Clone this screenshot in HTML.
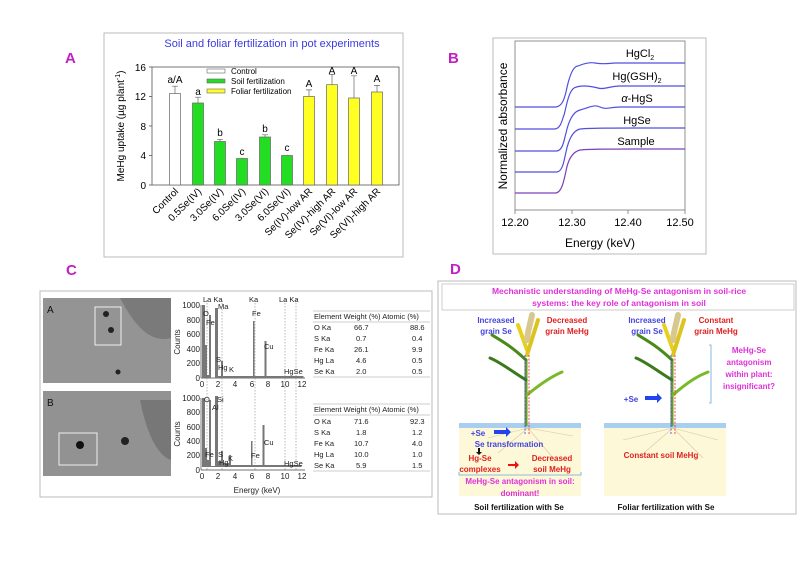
<!DOCTYPE html>
<html><head><meta charset="utf-8"><style>body{margin:0;background:#fff}svg{display:block;font-family:"Liberation Sans",Arial,sans-serif}</style></head><body>
<svg width="800" height="585" viewBox="0 0 800 585" xmlns="http://www.w3.org/2000/svg">
<!-- Panel A -->
<text x="65" y="63" font-size="15" font-weight="bold" fill="#c21fc4">A</text>
<rect x="104" y="33" width="299" height="224" fill="#fff" stroke="#bbb"/>
<text x="272" y="47" font-size="11" fill="#3a3ae0" text-anchor="middle">Soil and foliar fertilization in pot experiments</text>
<rect x="152" y="67" width="247" height="118" fill="none" stroke="#555" stroke-width="0.8"/>
<g font-size="10" text-anchor="end" fill="#000">
<text x="146" y="71">16</text><text x="146" y="100">12</text><text x="146" y="130">8</text><text x="146" y="159">4</text><text x="146" y="189">0</text></g>
<g stroke="#555" stroke-width="0.8"><line x1="149" y1="67" x2="152" y2="67"/><line x1="149" y1="96.5" x2="152" y2="96.5"/><line x1="149" y1="126" x2="152" y2="126"/><line x1="149" y1="155.5" x2="152" y2="155.5"/><line x1="149" y1="185" x2="152" y2="185"/></g>
<text transform="translate(124,126) rotate(-90)" font-size="10" text-anchor="middle">MeHg uptake (µg plant<tspan dy="-4" font-size="7">-1</tspan><tspan dy="4">)</tspan></text>
<g stroke="#666" stroke-width="0.7">
<rect x="169.5" y="93.5" width="11" height="91.5" fill="#fff"/>
<rect x="192.5" y="103" width="11" height="82" fill="#22dd22"/>
<rect x="214.5" y="141.5" width="11" height="43.5" fill="#22dd22"/>
<rect x="236.5" y="158.5" width="11" height="26.5" fill="#22dd22"/>
<rect x="259.5" y="137" width="11" height="48" fill="#22dd22"/>
<rect x="281.5" y="155.5" width="11" height="29.5" fill="#22dd22"/>
<rect x="303.5" y="96.5" width="11" height="88.5" fill="#ffff22"/>
<rect x="326.5" y="84.7" width="11" height="100.3" fill="#ffff22"/>
<rect x="348.5" y="98" width="11" height="87" fill="#ffff22"/>
<rect x="371.5" y="92" width="11" height="93" fill="#ffff22"/>
<path d="M175 93.5V86.2M172 86.2h6M198 103V97.2M195 97.2h6M220 141.5V139.3M217 139.3h6M242 158.5V157.7M265 137V134.8M262 134.8h6M287 155.5V154.8M309 96.5V89.9M306 89.9h6M332 84.7V74.4M329 74.4h6M354 98V75.8M351 75.8h6M377 92V85.4M374 85.4h6" fill="none"/>
</g>
<g font-size="10" text-anchor="middle">
<text x="175" y="83">a/A</text><text x="198" y="95">a</text><text x="220" y="136">b</text><text x="242" y="155">c</text><text x="265" y="132">b</text><text x="287" y="151">c</text><text x="309" y="87">A</text><text x="332" y="74">A</text><text x="354" y="74">A</text><text x="377" y="82">A</text></g>
<g font-size="8"><rect x="207" y="69" width="18" height="4" fill="#fff" stroke="#666" stroke-width="0.6"/><text x="231" y="74">Control</text>
<rect x="207" y="79" width="18" height="4" fill="#22dd22" stroke="#666" stroke-width="0.6"/><text x="231" y="84">Soil fertilization</text>
<rect x="207" y="89" width="18" height="4" fill="#ffff22" stroke="#666" stroke-width="0.6"/><text x="231" y="94">Foliar fertilization</text></g>
<g font-size="10" text-anchor="end">
<text transform="translate(179,192) rotate(-45)">Control</text>
<text transform="translate(202,192) rotate(-45)">0.5Se(IV)</text>
<text transform="translate(224,192) rotate(-45)">3.0Se(IV)</text>
<text transform="translate(246,192) rotate(-45)">6.0Se(IV)</text>
<text transform="translate(269,192) rotate(-45)">3.0Se(VI)</text>
<text transform="translate(291,192) rotate(-45)">6.0Se(VI)</text>
<text transform="translate(313,192) rotate(-45)">Se(IV)-low AR</text>
<text transform="translate(336,192) rotate(-45)">Se(IV)-high AR</text>
<text transform="translate(358,192) rotate(-45)">Se(VI)-low AR</text>
<text transform="translate(381,192) rotate(-45)">Se(VI)-high AR</text></g>

<!-- Panel B -->
<text x="448" y="63" font-size="15" font-weight="bold" fill="#c21fc4">B</text>
<rect x="493" y="38" width="213" height="216" fill="#fff" stroke="#bbb"/>
<rect x="515" y="41" width="170" height="169" fill="none" stroke="#777" stroke-width="0.8"/>
<g stroke="#777" stroke-width="0.8"><line x1="515" y1="210" x2="515" y2="214"/><line x1="572" y1="210" x2="572" y2="214"/><line x1="628" y1="210" x2="628" y2="214"/><line x1="685" y1="210" x2="685" y2="214"/></g>
<g font-size="11" text-anchor="middle"><text x="515" y="226">12.20</text><text x="572" y="226">12.30</text><text x="628" y="226">12.40</text><text x="680" y="226">12.50</text>
<text x="600" y="247" font-size="12">Energy (keV)</text></g>
<text transform="translate(507,126) rotate(-90)" font-size="12" text-anchor="middle">Normalized absorbance</text>
<g fill="none" stroke="#5050e0" stroke-width="1.2">
<path d="M515 107H556C562 106 564 100 566 92C568 82 572 66 578 66C585 63 590 62 595 63C600 64 605 64 615 63H685"/>
<path d="M515 129H555C561 128 562 120 564 115C566 109 568 92 574 88C580 85 590 86 598 88C604 90 610 86 620 86H685"/>
<path d="M515 151H557C563 150 564 140 566 133C568 124 572 112 580 110C588 108 594 104 600 107C606 110 610 107 620 107H685"/>
<path d="M515 172H557C563 171 564 160 566 152C568 142 572 131 580 129C590 128 600 128 685 128"/>
</g>
<path d="M515 193H556C562 192 564 180 566 171C568 160 572 152 580 150C590 149 600 149 685 149" fill="none" stroke="#5050e0" stroke-width="1.2"/>
<path d="M515 193H556C562 192 564 180 566 171C568 160 572 152 580 150C590 149 600 149 685 149" fill="none" stroke="#dd2266" stroke-width="0.8" stroke-dasharray="1.5 1.5"/>
<g font-size="11" text-anchor="middle"><text x="640" y="57">HgCl<tspan font-size="7" dy="3">2</tspan></text><text x="637" y="80">Hg(GSH)<tspan font-size="7" dy="3">2</tspan></text><text x="637" y="102"><tspan font-style="italic">α</tspan>-HgS</text><text x="637" y="124">HgSe</text><text x="636" y="145">Sample</text></g>

<!-- Panel C -->
<text x="66" y="275" font-size="15" font-weight="bold" fill="#c21fc4">C</text>
<rect x="40" y="291" width="392" height="206" fill="#fff" stroke="#bbb"/>
<rect x="43" y="298" width="128" height="85" fill="#949494"/>
<rect x="43" y="391" width="128" height="85" fill="#929292"/>
<path d="M120 298h51v40c-20 5-35-10-51-40z" fill="#7a7a7a"/>
<path d="M140 400h31v60c-15-5-25-30-31-60z" fill="#777"/>
<rect x="95" y="307" width="26" height="38" fill="none" stroke="#eee"/>
<rect x="59" y="433" width="38" height="32" fill="none" stroke="#eee"/>
<circle cx="106" cy="314" r="3" fill="#222"/><circle cx="111" cy="330" r="3" fill="#222"/><circle cx="118" cy="372" r="2.5" fill="#222"/>
<circle cx="80" cy="445" r="4" fill="#111"/><circle cx="125" cy="441" r="4" fill="#222"/>
<text x="47" y="313" font-size="10" fill="#111">A</text><text x="47" y="406" font-size="10" fill="#111">B</text>
<g font-size="8" fill="#222">
<line x1="201" y1="305" x2="201" y2="378" stroke="#444" stroke-width="0.7"/><line x1="201" y1="378" x2="305" y2="378" stroke="#444" stroke-width="0.7"/>
<line x1="201" y1="398" x2="201" y2="470" stroke="#444" stroke-width="0.7"/><line x1="201" y1="470" x2="305" y2="470" stroke="#444" stroke-width="0.7"/>
<g text-anchor="end"><text x="200" y="308">1000</text><text x="200" y="323">800</text><text x="200" y="337">600</text><text x="200" y="352">400</text><text x="200" y="366">200</text><text x="200" y="381">0</text>
<text x="200" y="401">1000</text><text x="200" y="415">800</text><text x="200" y="430">600</text><text x="200" y="444">400</text><text x="200" y="458">200</text><text x="200" y="473">0</text></g>
<g text-anchor="middle"><text x="202" y="387">0</text><text x="218" y="387">2</text><text x="235" y="387">4</text><text x="252" y="387">6</text><text x="268" y="387">8</text><text x="285" y="387">10</text><text x="302" y="387">12</text>
<text x="202" y="479">0</text><text x="218" y="479">2</text><text x="235" y="479">4</text><text x="252" y="479">6</text><text x="268" y="479">8</text><text x="285" y="479">10</text><text x="302" y="479">12</text></g>
<text transform="translate(180,342) rotate(-90)" text-anchor="middle">Counts</text><text transform="translate(180,434) rotate(-90)" text-anchor="middle">Counts</text>
<text x="257" y="493" text-anchor="middle">Energy (keV)</text>
</g>
<g stroke="#888" stroke-width="0.6" stroke-dasharray="1.5 1.5"><line x1="207" y1="300" x2="207" y2="470"/><line x1="222" y1="300" x2="222" y2="470"/><line x1="255" y1="300" x2="255" y2="470"/><line x1="285" y1="300" x2="285" y2="470"/><line x1="296" y1="300" x2="296" y2="470"/></g>
<g fill="#777">
<path d="M202 378V305h3v40h2v30h2v-60h2v63h4v-70h3v68h3v-15h2v15h30v-55h1.5v55h10v-35h2v35h37v2H202z"/>
<path d="M202 470V398h3v50h2v12h2v-60h2v66h4v-70h3v65h3v-10h2v12h6v-8h2v10h20v-24h1.5v24h10v-40h2v40h37v2H202z"/></g>
<g font-size="7.5" fill="#222"><text x="203" y="302">La Ka</text><text x="249" y="302">Ka</text><text x="279" y="302">La Ka</text><text x="218" y="309">Ma</text><text x="203" y="316">O</text><text x="206" y="325">Fe</text><text x="252" y="316">Fe</text><text x="264" y="349">Cu</text><text x="216" y="362">S</text><text x="218" y="370">Hg</text><text x="229" y="372">K</text><text x="284" y="374">HgSe</text>
<text x="204" y="402">O</text><text x="212" y="410">Al</text><text x="217" y="402">Si</text><text x="205" y="457">Fe</text><text x="218" y="457">S</text><text x="219" y="465">Hg</text><text x="228" y="461">K</text><text x="251" y="458">Fe</text><text x="264" y="445">Cu</text><text x="284" y="466">HgSe</text></g>
<g font-size="7.5" fill="#222">
<line x1="313" y1="311" x2="430" y2="311" stroke="#999" stroke-width="0.6"/>
<text x="314" y="319">Element  Weight (%)  Atomic (%)</text>
<line x1="313" y1="322" x2="430" y2="322" stroke="#999" stroke-width="0.6"/>
<text x="314" y="330">O Ka</text><text x="354" y="330">66.7</text><text x="410" y="330">88.6</text>
<text x="314" y="341">S Ka</text><text x="356" y="341">0.7</text><text x="412" y="341">0.4</text>
<text x="314" y="352">Fe Ka</text><text x="354" y="352">26.1</text><text x="412" y="352">9.9</text>
<text x="314" y="363">Hg La</text><text x="356" y="363">4.6</text><text x="412" y="363">0.5</text>
<text x="314" y="374">Se Ka</text><text x="356" y="374">2.0</text><text x="412" y="374">0.5</text>
<line x1="313" y1="377" x2="430" y2="377" stroke="#999" stroke-width="0.6"/>
<line x1="313" y1="404" x2="430" y2="404" stroke="#999" stroke-width="0.6"/>
<text x="314" y="412">Element  Weight (%)  Atomic (%)</text>
<line x1="313" y1="415" x2="430" y2="415" stroke="#999" stroke-width="0.6"/>
<text x="314" y="424">O Ka</text><text x="354" y="424">71.6</text><text x="410" y="424">92.3</text>
<text x="314" y="435">S Ka</text><text x="356" y="435">1.8</text><text x="412" y="435">1.2</text>
<text x="314" y="446">Fe Ka</text><text x="354" y="446">10.7</text><text x="412" y="446">4.0</text>
<text x="314" y="457">Hg La</text><text x="354" y="457">10.0</text><text x="412" y="457">1.0</text>
<text x="314" y="468">Se Ka</text><text x="356" y="468">5.9</text><text x="412" y="468">1.5</text>
<line x1="313" y1="471" x2="430" y2="471" stroke="#999" stroke-width="0.6"/></g>

<!-- Panel D -->
<text x="450" y="274" font-size="15" font-weight="bold" fill="#c21fc4">D</text>
<rect x="438" y="281" width="358" height="233" fill="#fff" stroke="#bbb"/>
<rect x="442" y="284" width="352" height="26" fill="#fff" stroke="#ccc"/>
<g font-size="8.5" font-weight="bold" fill="#e030d8" text-anchor="middle"><text x="619" y="294">Mechanistic understanding of MeHg-Se antagonism in soil-rice</text><text x="619" y="306">systems: the key role of antagonism in soil</text></g>
<rect x="459" y="425" width="122" height="71" fill="#fdf8d8"/><rect x="459" y="423" width="122" height="5" fill="#a8cff0"/>
<rect x="604" y="425" width="122" height="71" fill="#fdf8d8"/><rect x="604" y="423" width="122" height="5" fill="#a8cff0"/>
<g stroke="#d8c8a0" fill="none" stroke-width="0.6"><path d="M528 428l-30 25M528 428l25 30M528 428l-40 10M528 428l45 8M673 428l-35 30M673 428l30 30M673 428l-50 12M673 428l45 12"/></g>
<g fill="none" stroke-linecap="round">
<path d="M526 425V360" stroke="#6a9a2a" stroke-width="3"/><path d="M526 380C510 370 500 362 490 358" stroke="#3a7a1a" stroke-width="3"/><path d="M527 395C545 380 555 375 562 372" stroke="#7aba2a" stroke-width="3"/><path d="M526 360C510 345 500 340 492 335" stroke="#4a8a1a" stroke-width="3"/><path d="M527 350L518 325" stroke="#e8d020" stroke-width="4"/><path d="M527 355L538 320" stroke="#dcc420" stroke-width="4"/><path d="M527 340C528 330 530 325 532 315" stroke="#d8c890" stroke-width="6" stroke-dasharray="2 1"/>
<path d="M672 425V360" stroke="#6a9a2a" stroke-width="3"/><path d="M672 380C656 370 646 362 636 358" stroke="#3a7a1a" stroke-width="3"/><path d="M673 395C690 380 700 375 708 372" stroke="#7aba2a" stroke-width="3"/><path d="M672 360C656 345 646 340 638 335" stroke="#4a8a1a" stroke-width="3"/><path d="M673 350L664 325" stroke="#e8d020" stroke-width="4"/><path d="M673 355L684 320" stroke="#dcc420" stroke-width="4"/><path d="M673 340C674 330 676 325 678 315" stroke="#d8c890" stroke-width="6" stroke-dasharray="2 1"/>
</g>
<g stroke-dasharray="2 1.5" stroke-width="0.8"><line x1="525" y1="355" x2="525" y2="435" stroke="#3344ee"/><line x1="529" y1="355" x2="529" y2="435" stroke="#ee2222"/><line x1="671" y1="355" x2="671" y2="435" stroke="#3344ee"/><line x1="675" y1="355" x2="675" y2="435" stroke="#ee2222"/></g>
<path d="M709 345h2v58h-2" fill="none" stroke="#66aadd" stroke-width="0.8"/>
<path d="M459 472v3h122v-3" fill="none" stroke="#66aadd" stroke-width="0.8"/>
<g font-size="8" font-weight="bold" text-anchor="middle">
<text x="496" y="323" fill="#4444dd">Increased</text><text x="496" y="334" fill="#4444dd">grain Se</text>
<text x="567" y="323" fill="#e02020">Decreased</text><text x="567" y="334" fill="#e02020">grain MeHg</text>
<text x="647" y="323" fill="#4444dd">Increased</text><text x="647" y="334" fill="#4444dd">grain Se</text>
<text x="716" y="323" fill="#e02020">Constant</text><text x="716" y="334" fill="#e02020">grain MeHg</text>
<g fill="#e030d8"><text x="749" y="353">MeHg-Se</text><text x="749" y="365">antagonism</text><text x="749" y="377">within plant:</text><text x="749" y="389">insignificant?</text></g>
<text x="631" y="402" fill="#4444dd">+Se</text>
<text x="478" y="436" fill="#4444dd">+Se</text>
<text x="509" y="447" fill="#4444dd">Se transformation</text>
<text x="480" y="461" fill="#e02020">Hg-Se</text><text x="480" y="472" fill="#e02020">complexes</text>
<text x="552" y="461" fill="#e02020">Decreased</text><text x="552" y="472" fill="#e02020">soil MeHg</text>
<text x="661" y="458" fill="#e02020">Constant soil MeHg</text>
<g fill="#e030d8"><text x="520" y="484">MeHg-Se antagonism in soil:</text><text x="520" y="496">dominant!</text></g>
<text x="519" y="510" fill="#111">Soil fertilization with Se</text>
<text x="666" y="510" fill="#111">Foliar fertilization with Se</text>
</g>
<g fill="#2244ee"><path d="M645 396h12v-3l5 5-5 5v-3h-12z"/><path d="M494 430h12v-3l5 5-5 5v-3h-12z"/></g>
<path d="M508 464h7v-3l4 4-4 4v-3h-7z" fill="#ee1111"/>
<path d="M478 448v4h-2l3 3 3-3h-2v-4z" fill="#111"/>
</svg>
</body></html>
